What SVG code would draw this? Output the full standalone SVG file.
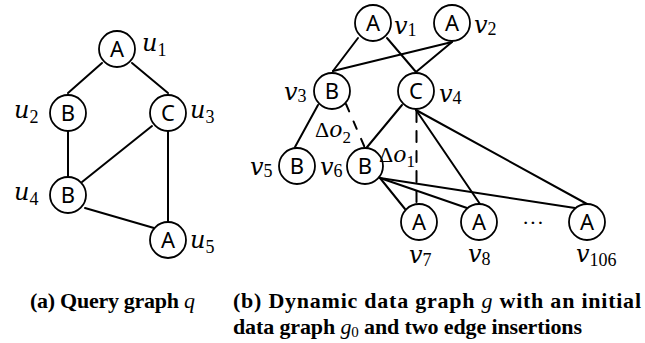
<svg xmlns="http://www.w3.org/2000/svg" width="645" height="343" viewBox="0 0 645 343">
<style>
.bg{fill:#fff}
.e line{stroke:#000;stroke-width:2;stroke-linecap:round}
.d{stroke-dasharray:8 11}
.n circle{fill:#fff;stroke:#000;stroke-width:1.8}
.n text.t{font-family:"Noto Sans","Open Sans",sans-serif;font-size:22px;text-anchor:middle}
.lbl{font-family:"DejaVu Serif",serif;font-style:italic;font-size:24px}
.sub{font-family:"Liberation Serif",serif;font-style:normal;font-size:18px}
.cap{font-family:"Liberation Serif",serif;font-weight:bold;font-size:22px}
.m{font-style:italic;font-weight:normal}
.dl{font-family:"Liberation Serif",serif;font-size:22px}
.dm{font-family:"DejaVu Serif",serif;font-style:italic;font-size:22px}
</style>
<rect class="bg" x="0" y="0" width="645" height="343"/>
<g id="connectors" class="e">
<line x1="102" y1="63" x2="68" y2="93"/>
<line x1="132" y1="63" x2="168" y2="93"/>
<line x1="68" y1="131" x2="68" y2="177"/>
<line x1="152" y1="126" x2="82" y2="182"/>
<line x1="168" y1="131" x2="168" y2="222"/>
<line x1="85" y1="208" x2="154" y2="228"/>
<line x1="358" y1="38" x2="333" y2="71"/>
<line x1="387" y1="38" x2="416" y2="72"/>
<line x1="452" y1="42" x2="333" y2="71"/>
<line x1="452" y1="42" x2="416" y2="72"/>
<line x1="318" y1="105" x2="295" y2="147"/>
<line x1="402" y1="105" x2="363" y2="152"/>
<line x1="416" y1="110" x2="480" y2="204"/>
<line x1="416" y1="110" x2="587" y2="204"/>
<line x1="380" y1="178" x2="405" y2="209"/>
<line x1="380" y1="178" x2="467" y2="208"/>
<line x1="380" y1="178" x2="575" y2="208"/>
<line class="d" x1="346" y1="104" x2="365" y2="148"/>
<line class="d" style="stroke-dasharray:11 9" x1="416.5" y1="111" x2="416.5" y2="204"/>
</g>
<g id="u1" class="n"><circle cx="117" cy="49" r="18"/><text class="t" x="117" y="57">A</text><text class="lbl" x="142" y="51">u<tspan class="sub" dy="5">1</tspan></text></g>
<g id="u2" class="n"><circle cx="68" cy="113" r="18"/><text class="t" x="68" y="121">B</text><text class="lbl" x="14" y="118">u<tspan class="sub" dy="5">2</tspan></text></g>
<g id="u3" class="n"><circle cx="168" cy="113" r="18"/><text class="t" x="168" y="121">C</text><text class="lbl" x="190" y="118">u<tspan class="sub" dy="5">3</tspan></text></g>
<g id="u4" class="n"><circle cx="68" cy="195" r="18"/><text class="t" x="68" y="203">B</text><text class="lbl" x="14" y="200">u<tspan class="sub" dy="5">4</tspan></text></g>
<g id="u5" class="n"><circle cx="168" cy="240" r="18"/><text class="t" x="168" y="248">A</text><text class="lbl" x="190" y="248">u<tspan class="sub" dy="5">5</tspan></text></g>
<g id="v1" class="n"><circle cx="373" cy="23" r="18"/><text class="t" x="373" y="31">A</text><text class="lbl" x="394" y="34">v<tspan class="sub" dy="2">1</tspan></text></g>
<g id="v2" class="n"><circle cx="452" cy="23" r="18"/><text class="t" x="452" y="31">A</text><text class="lbl" x="474" y="33">v<tspan class="sub" dy="2">2</tspan></text></g>
<g id="v3" class="n"><circle cx="332" cy="91" r="18"/><text class="t" x="332" y="99">B</text><text class="lbl" x="284" y="100">v<tspan class="sub" dy="2">3</tspan></text></g>
<g id="v4" class="n"><circle cx="416" cy="91" r="18"/><text class="t" x="416" y="99">C</text><text class="lbl" x="439" y="102">v<tspan class="sub" dy="2">4</tspan></text></g>
<g id="v5" class="n"><circle cx="297" cy="166" r="18"/><text class="t" x="297" y="174">B</text><text class="lbl" x="250" y="175">v<tspan class="sub" dy="2">5</tspan></text></g>
<g id="v6" class="n"><circle cx="365" cy="166" r="18"/><text class="t" x="365" y="174">B</text><text class="lbl" x="320" y="175">v<tspan class="sub" dy="2">6</tspan></text></g>
<g id="v7" class="n"><circle cx="419" cy="222" r="18"/><text class="t" x="419" y="230">A</text><text class="lbl" x="409" y="263">v<tspan class="sub" dy="3">7</tspan></text></g>
<g id="v8" class="n"><circle cx="479" cy="222" r="18"/><text class="t" x="479" y="230">A</text><text class="lbl" x="468" y="262">v<tspan class="sub" dy="3">8</tspan></text></g>
<g id="v106" class="n"><circle cx="587" cy="222" r="18"/><text class="t" x="587" y="230">A</text><text class="lbl" x="576" y="262">v<tspan class="sub" dy="4">106</tspan></text></g>
<text class="dl" x="533" y="230" text-anchor="middle">···</text>
<text class="dl" x="315" y="137">Δ<tspan class="dm">o</tspan><tspan dy="6" font-size="17">2</tspan></text>
<text class="dl" x="379" y="162">Δ<tspan class="dm">o</tspan><tspan dy="5" font-size="17">1</tspan></text>
<text class="cap" x="30" y="308" textLength="165">(a) Query graph <tspan class="m">q</tspan></text>
<text class="cap" x="233" y="308" textLength="408">(b) Dynamic data graph <tspan class="m">g</tspan> with an initial</text>
<text class="cap" x="233" y="334" textLength="349">data graph <tspan class="m">g</tspan><tspan font-size="15" font-weight="normal" dy="3">0</tspan><tspan dy="-3"> and two edge insertions</tspan></text>
</svg>
